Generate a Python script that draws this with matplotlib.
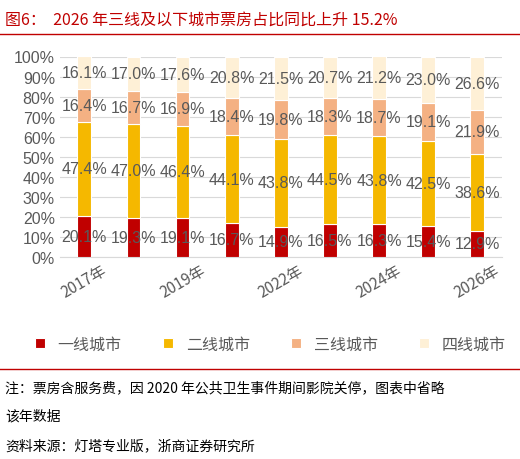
import matplotlib.pyplot as plt
import numpy as np

plt.rcParams['font.family'] = ['Noto Sans CJK SC', 'DejaVu Sans']

years = ['2017年', '2018年', '2019年', '2021年', '2022年', '2023年', '2024年', '2025年', '2026年']
tier1 = [20.1, 19.3, 19.1, 16.7, 14.9, 16.5, 16.3, 15.4, 12.9]
tier2 = [47.4, 47.0, 46.4, 44.1, 43.8, 44.5, 43.8, 42.5, 38.6]
tier3 = [16.4, 16.7, 16.9, 18.4, 19.8, 18.3, 18.7, 19.1, 21.9]
tier4 = [16.1, 17.0, 17.6, 20.8, 21.5, 20.7, 21.2, 23.0, 26.6]
names = ['一线城市', '二线城市', '三线城市', '四线城市']
colors = ['#C00000', '#F5B800', '#F4B183', '#FEF0D6']

fig = plt.figure(figsize=(5.2, 4.6), dpi=100)
ax = fig.add_axes([0.115, 0.44, 0.85, 0.435])
x = np.arange(len(years))
bottom = np.zeros(len(years))
for vals, c, n in zip([tier1, tier2, tier3, tier4], colors, names):
    ax.bar(x, vals, 0.28, bottom=bottom, color=c, edgecolor='white', linewidth=0.8, label=n, zorder=3)
    for xi, b, v in zip(x, bottom, vals):
        ax.text(xi, b + v / 2, f'{v:.1f}%', ha='center', va='center', fontsize=11.5,
                family='Liberation Sans', color='#595959', zorder=4)
    bottom += np.array(vals)

ax.set_ylim(0, 100)
ax.set_xlim(-0.5, len(years) - 0.5)
ax.set_yticks(range(0, 101, 10))
ax.set_yticklabels([f'{v}%' for v in range(0, 101, 10)], color='#595959', fontsize=11.5, family='Liberation Sans')
ax.set_xticks(x[::2])
ax.set_xticklabels(years[::2], rotation=30, color='#595959', fontsize=11)
ax.tick_params(length=0)
ax.grid(axis='y', color='#D9D9D9', linewidth=0.8, zorder=0)
for s in ['top', 'right', 'left']:
    ax.spines[s].set_visible(False)
ax.spines['bottom'].set_color('#D9D9D9')

fig.legend(loc='center', bbox_to_anchor=(0.52, 0.25), ncol=4, frameon=False, fontsize=11.5,
           handlelength=0.6, handleheight=0.6, columnspacing=2.6, labelcolor='#595959')

fig.text(0.01, 0.975, '图6：  2026 年三线及以下城市票房占比同比上升 15.2%', color='#C00000', fontsize=11.5, va='top')
fig.add_artist(plt.Line2D([0.0, 1.0], [0.925, 0.925], color='#C00000', linewidth=1))
fig.add_artist(plt.Line2D([0.0, 1.0], [0.195, 0.195], color='#C00000', linewidth=1))
fig.text(0.01, 0.155, '注：票房含服务费，因 2020 年公共卫生事件期间影院关停，图表中省略', fontsize=10, va='center')
fig.text(0.01, 0.095, '该年数据', fontsize=10, va='center')
fig.text(0.01, 0.03, '资料来源：灯塔专业版，浙商证券研究所', fontsize=10, va='center')

fig.savefig('out.png')
